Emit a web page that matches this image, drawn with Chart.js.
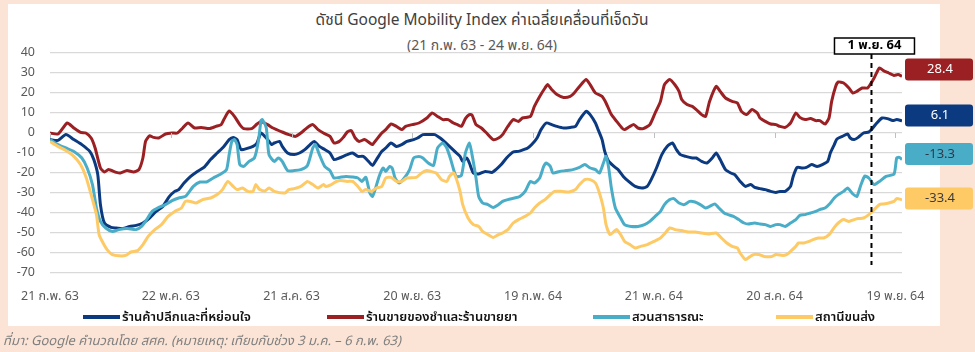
<!DOCTYPE html>
<html>
<head>
<meta charset="utf-8">
<script src="https://cdn.jsdelivr.net/npm/chart.js@4.4.1/dist/chart.umd.min.js"></script>
<style>
  body { margin:0; width:975px; height:352px; background:#fbe4d5; position:relative; overflow:hidden;
         font-family: Tahoma, "Noto Sans Thai", "Noto Sans", sans-serif; }
  #panel { position:absolute; left:8px; top:4px; width:932px; height:322px; background:#fff; }
  #wrap { position:absolute; left:0; top:0; width:975px; height:352px; }
  .ttl { position:absolute; left:0; width:964px; text-align:center; white-space:nowrap; }
  #title { top:9px; font-size:15.5px; color:#404040; }
  #subtitle { top:35px; font-size:14px; color:#595959; }
  .lg { position:absolute; top:307px; font-size:13px; font-weight:600; color:#111; white-space:nowrap; display:flex; align-items:center; }
  .lg span.sw { display:inline-block; width:37px; height:4px; margin-right:2px; }
  #note { position:absolute; left:3px; top:331px; font-size:13px; font-style:italic; color:#7f7f7f; white-space:nowrap; }
</style>
</head>
<body>
<div id="panel"></div>
<div id="title" class="ttl">ดัชนี Google Mobility Index ค่าเฉลี่ยเคลื่อนที่เจ็ดวัน</div>
<div id="subtitle" class="ttl">(21 ก.พ. 63 - 24 พ.ย. 64)</div>
<div id="wrap"><canvas id="chart"></canvas></div>
<div id="legend"></div>
<div id="note">ที่มา: Google คำนวณโดย สศค. (หมายเหตุ: เทียบกับช่วง 3 ม.ค. – 6 ก.พ. 63)</div>
<script>
// days counted from 21 ก.พ. 63
var tickDays = [0, 91, 182, 273, 364, 455, 546, 637];
var tickLabels = ['21 ก.พ. 63', '22 พ.ค. 63', '21 ส.ค. 63', '20 พ.ย. 63', '19 ก.พ. 64', '21 พ.ค. 64', '20 ส.ค. 64', '19 พ.ย. 64'];
var markerDay = 619;
var markerLabel = '1 พ.ย. 64';

var seriesNames = ['ร้านค้าปลีกและที่หย่อนใจ', 'ร้านขายของชำและร้านขายยา', 'สวนสาธารณะ', 'สถานีขนส่ง'];

var retailDays = [0,6,12,18,24,30,33,36,38,41,46,50,55,60,65,70,75,80,85,90,94,97,101,106,111,116,121,126,131,135,138,141,144,148,153,156,159,163,167,169,173,175,179,184,188,192,196,199,203,207,211,214,218,224,228,232,236,240,243,246,250,253,257,261,265,269,274,277,281,286,290,294,297,301,305,309,311,314,316,319,323,328,333,336,340,344,349,353,357,360,363,367,370,374,378,382,387,392,396,399,404,407,411,413,416,418,421,425,428,432,436,441,446,450,453,457,461,465,469,472,475,479,484,487,491,495,499,502,505,509,513,516,520,524,528,531,535,539,543,547,550,554,558,560,563,567,570,574,578,582,586,588,591,593,597,601,603,606,609,613,617,619,623,627,631,635,638,642];
var retailVals = [-3.3,-3.7,-0.8,-3.3,-5.8,-9.2,-13.3,-20.8,-35.8,-45,-47.2,-47.5,-47.8,-46.7,-46.2,-45,-42.5,-39.2,-36.7,-31.7,-29.2,-28.3,-25,-21.7,-19.2,-17.2,-13.3,-10,-6.7,-3.3,-2.2,-3.3,-8.3,-7.8,-6.7,-5,0,-2.5,-5.8,-5,-4.2,-6.7,-10,-10.8,-10,-8.3,-5.8,-4.2,-6.7,-8.3,-10,-13.3,-12.5,-10.8,-10,-11.7,-11.7,-14.2,-16.2,-13.3,-9.2,-7.5,-5,-6.7,-5.8,-4.2,-3.3,-2.5,-0.8,-0.8,-0.8,-2.5,-4.2,-6.7,-9.2,-11.7,-14.2,-12.5,-15,-20,-20.5,-19.2,-19.7,-18.3,-15.8,-12.5,-9.5,-9.2,-8.3,-7.5,-5.8,-2.5,1.7,5,4.2,3.3,2.5,2.8,3.3,6.7,10.8,9.2,5,1.7,-3.3,-9.2,-14.2,-16.7,-18.3,-21.7,-24.2,-26.7,-27.5,-26.7,-23.3,-17.5,-10.8,-6.7,-5,-8.3,-10.8,-11.7,-12.5,-12.5,-14.2,-15,-12.5,-10,-13.3,-18.3,-20,-20.8,-24.2,-26.7,-25.8,-27.2,-27.8,-28.3,-29.2,-29.7,-29.2,-29.2,-26.7,-21.7,-17.2,-17.5,-17.2,-15.8,-16.7,-15.8,-14.2,-10,-5.8,-3,-1.7,-0.5,-2.5,-3.3,-2.2,0,0.5,1.7,5,7.5,7.2,6.2,6.7,6.1];

var groceryDays = [0,6,13,18,23,27,31,34,38,41,44,50,53,58,63,67,70,72,75,78,82,87,92,96,100,104,109,114,120,125,129,131,135,139,143,146,152,156,159,164,168,175,180,185,190,194,198,202,206,211,214,218,221,224,227,230,233,237,241,243,246,250,253,257,261,265,268,273,278,284,288,292,296,300,304,307,310,313,316,318,321,325,329,334,338,341,345,349,353,356,362,365,369,373,375,378,382,387,392,395,399,404,407,411,416,419,423,427,431,433,437,440,443,447,452,456,460,463,467,471,474,476,480,484,487,491,494,497,502,505,509,514,518,521,525,529,533,535,539,543,547,550,554,558,562,565,569,573,577,580,584,587,589,592,594,598,602,605,608,612,616,618,621,625,628,632,636,639,642];
var groceryVals = [0,-0.5,5,2.5,0.3,0,-2.5,-7.5,-17.5,-19.5,-18.3,-19.7,-20,-18.8,-19.5,-18.3,-12.5,-4.2,-1.4,-2.2,-2.5,-0.5,0,0,2.5,5,2.5,2.8,2.2,3.3,4.2,6.7,11,8.3,4.2,2.2,2.2,4.5,5.8,4.2,2.5,0.5,-0.8,-1.7,0.5,2.8,4.2,1.7,0,-1.7,-5,-4.2,-2.2,0.5,1.2,-2.5,-4.2,-3.3,-5,-5.8,-3.3,0,1.7,4.5,3.3,1.7,3.3,4.2,5,7.5,10,8.3,6.7,6.7,5,4.2,3.3,7.2,9.2,9,4.2,2.5,0,-3.3,-2.5,-0.8,3.3,6.7,5.8,7.5,8.3,13.3,18.3,22.5,24.2,21.7,19.2,17.8,18.3,20,23.3,26.7,24.2,20,18.3,15,9.2,5.8,2.5,1.7,3.3,4.2,2.5,2.2,4.2,10,15.8,24.2,26.7,24,20.8,16.7,14.2,13.3,11.7,9.2,8.3,15.8,23.3,20.8,17.5,15.8,15,10.8,9.2,11.7,10,7.5,5.8,4.5,4.2,3.3,2.8,5,10,7.8,6.7,7.2,6.2,6.2,4.5,7.5,15.8,23.3,25.5,25,22.5,20,20.8,22.5,22.5,24.2,27.5,32.5,31.2,30,28.8,29.2,28.4];

var parksDays = [0,6,12,18,24,28,32,35,38,42,47,52,58,65,69,72,77,82,87,92,97,102,108,113,118,123,128,133,135,137,139,141,143,146,150,154,157,159,160,163,165,169,172,175,179,184,189,194,198,200,203,207,211,214,218,223,228,232,235,238,241,243,245,248,251,253,256,258,260,263,267,271,274,278,281,285,289,292,296,299,302,306,310,313,316,318,321,323,326,330,334,338,341,345,350,354,358,362,365,369,372,374,377,379,384,389,394,399,403,407,411,414,417,419,421,423,426,430,433,438,443,448,452,456,460,463,467,470,474,478,482,486,490,494,497,501,504,508,511,515,519,523,526,531,535,539,543,547,550,554,558,562,565,569,573,577,580,584,587,591,594,598,601,605,608,611,614,617,621,625,630,636,638,640,642];
var parksVals = [-3.3,-5.8,-7.5,-9.2,-12.5,-17.5,-25.8,-37.5,-44.2,-47.5,-49.2,-48.3,-47.8,-48.3,-46.7,-44.2,-39.2,-37.2,-35.8,-33.8,-32.5,-31.7,-26.7,-24.5,-24.5,-22.5,-20.8,-18.3,-10.8,-4.2,-3.3,-5.8,-15.8,-16.7,-14.2,-12.5,-4.2,6.2,6.7,2.5,-10.8,-14.2,-12.5,-14.2,-18.8,-18.8,-18.3,-16.2,-7.5,-5.8,-10.8,-16.7,-18.8,-22.5,-22.2,-21.7,-22,-22.5,-24.2,-22.2,-30,-31.7,-28.3,-21.7,-17.5,-19.2,-16.7,-17.8,-22.5,-25,-22.5,-18.3,-12.5,-11.7,-12.5,-15,-16.2,-7.5,-5,-7.5,-13.3,-21.7,-21.2,-10,-5,-10.8,-22.5,-31.7,-35,-35.8,-37.2,-35.8,-34.2,-33.3,-32.5,-31.7,-29.2,-24.2,-25,-22.5,-16.7,-15,-16.7,-20,-19.2,-18.8,-18.3,-17.2,-15.8,-17.5,-18.3,-20,-15,-11.7,-17.5,-27.5,-37.5,-42.5,-45.8,-46.7,-46.7,-45.8,-44.2,-41.7,-39.2,-35.8,-33.3,-32.8,-35,-35.8,-34.2,-34.5,-35.8,-37.5,-36.7,-35.5,-37.5,-40,-40.8,-41.7,-43.3,-45,-45.5,-45,-45.5,-45.8,-46.7,-45.8,-45.8,-46.7,-45,-43.3,-41.2,-40.8,-40,-39.2,-38.3,-37.5,-35.8,-32.5,-30.8,-29.2,-27.5,-30.5,-31.7,-26,-21.5,-22.5,-25.8,-24.2,-21.7,-20.5,-12.5,-12.2,-13.3];

var transitDays = [0,6,12,18,23,27,31,35,37,40,43,47,52,57,61,66,70,74,79,84,89,94,99,102,106,110,115,121,126,130,134,138,141,145,149,153,155,158,162,165,169,177,180,184,189,194,198,202,206,208,212,216,219,224,228,232,235,238,242,246,250,253,257,261,265,269,276,280,284,287,291,295,299,301,304,306,309,311,315,319,323,326,330,334,338,341,345,349,353,358,362,365,369,373,377,380,386,391,396,399,403,407,411,414,417,419,422,425,427,430,433,437,441,445,450,455,460,463,467,471,476,481,486,491,496,502,506,510,514,518,520,524,526,530,534,538,544,547,552,555,558,562,564,568,572,575,579,583,587,591,594,598,602,606,609,613,617,621,625,628,632,636,638,642];
var transitVals = [-4.2,-6.7,-8.8,-11.7,-15.8,-21.7,-30.8,-40.8,-50.8,-55,-58.3,-60.8,-61.4,-61.2,-59.5,-58.8,-55.8,-51.7,-48.3,-45.8,-41.7,-39.2,-37.5,-34.2,-34.2,-35,-33.3,-32.5,-30.8,-28.3,-24.2,-26.7,-28.3,-27.5,-29.2,-29.2,-25.8,-28.3,-29,-27.5,-29.2,-30,-28.3,-27.8,-26.7,-24.2,-25.8,-27.5,-25.8,-26.7,-25.8,-24.2,-23.8,-24.2,-24.2,-26.7,-29.2,-28.3,-29.2,-27.5,-26.7,-22.5,-22.2,-24.2,-24.2,-22.5,-22.2,-20,-18.8,-19.2,-20,-23.3,-24.2,-21.7,-20,-22.5,-29.2,-35.8,-42.5,-45.8,-46.7,-49.2,-50.8,-52.2,-50.8,-50,-48.3,-45,-43.3,-41.7,-40,-37.5,-35,-33.3,-30.8,-29.2,-29.2,-29.5,-28.3,-25.8,-23.3,-23.3,-25,-30,-37.5,-45.8,-50.8,-49.2,-48.3,-50.8,-54.2,-55.8,-57.5,-56.7,-55.8,-54.2,-52.5,-50.5,-47.5,-48.3,-48.8,-49.5,-49.5,-50,-50.5,-50,-52.5,-55,-56.7,-57.5,-60,-63.3,-62.5,-60.8,-60.8,-61.7,-61.7,-60.8,-61.2,-60.8,-59.2,-56.7,-55,-55,-54.2,-53.3,-52.5,-52.5,-50.8,-47.2,-45,-43.3,-44.2,-43.3,-42.8,-42.5,-40.8,-38.3,-35.8,-35.5,-35,-34.2,-32.8,-33.4];

var colors = ['#0b3a80', '#9b2023', '#4aadc8', '#fdca66'];
var tagText = ['#ffffff', '#ffffff', '#2b3a4a', '#3a3a3a'];
var tagNudge = [-5.4, -6.8, -5.7, -1.4];

function pts(days, vals) {
  return days.map(function(d, i) { return { x: d, y: vals[i] }; });
}

var allDays = [retailDays, groceryDays, parksDays, transitDays];
var allVals = [retailVals, groceryVals, parksVals, transitVals];
var datasets = [];
for (var i = 0; i < 4; i++) {
  datasets.push({
    label: seriesNames[i],
    data: pts(allDays[i], allVals[i]),
    borderColor: colors[i],
    backgroundColor: colors[i],
    borderWidth: 3,
    pointRadius: 0,
    tension: 0.2,
    order: 4 - i
  });
}

// legend
var legendLeft = [83, 327, 593, 776];
var lg = document.getElementById('legend');
seriesNames.forEach(function(n, i) {
  var d = document.createElement('div');
  d.className = 'lg';
  d.style.left = legendLeft[i] + 'px';
  d.innerHTML = '<span class="sw" style="background:' + colors[i] + '"></span>' + n;
  lg.appendChild(d);
});

var extras = {
  id: 'extras',
  afterDatasetsDraw: function(chart) {
    var ctx = chart.ctx, xs = chart.scales.x, ys = chart.scales.y;
    var y0 = ys.getPixelForValue(0);
    ctx.save();
    // small tick marks on the zero line
    ctx.strokeStyle = '#bfbfbf';
    ctx.lineWidth = 1;
    tickDays.forEach(function(d) {
      var x = Math.round(xs.getPixelForValue(d)) + 0.5;
      ctx.beginPath(); ctx.moveTo(x, y0); ctx.lineTo(x, y0 + 5); ctx.stroke();
    });
    // marker line
    var mx = xs.getPixelForValue(markerDay);
    ctx.strokeStyle = '#000';
    ctx.lineWidth = 2;
    ctx.setLineDash([5, 4]);
    ctx.beginPath(); ctx.moveTo(mx, 54); ctx.lineTo(mx, ys.getPixelForValue(-66)); ctx.stroke();
    ctx.setLineDash([]);
    ctx.fillStyle = '#fff';
    ctx.lineWidth = 1.5;
    ctx.fillRect(mx - 37, 38, 80, 16);
    ctx.strokeRect(mx - 37, 38, 80, 16);
    ctx.fillStyle = '#000';
    ctx.font = 'bold 13px Tahoma, "Noto Sans Thai", "Noto Sans", sans-serif';
    ctx.textAlign = 'center';
    ctx.textBaseline = 'middle';
    ctx.fillText(markerLabel, mx + 3, 46.5);
    // end value tags
    ctx.font = '13px Tahoma, "Noto Sans Thai", "Noto Sans", sans-serif';
    for (var i = 0; i < 4; i++) {
      var v = allVals[i][allVals[i].length - 1];
      var cy = ys.getPixelForValue(v) + tagNudge[i];
      ctx.fillStyle = colors[i];
      ctx.beginPath();
      ctx.roundRect(905, cy - 11, 68, 22, 3);
      ctx.fill();
      ctx.fillStyle = tagText[i];
      ctx.fillText(v.toFixed(1), 940, cy + 1);
    }
    ctx.restore();
  }
};

new Chart(document.getElementById('chart'), {
  type: 'line',
  data: { datasets: datasets },
  plugins: [extras],
  options: {
    responsive: true,
    maintainAspectRatio: false,
    animation: false,
    layout: { padding: { top: 53, left: 8, right: 73, bottom: 45 } },
    plugins: { legend: { display: false }, tooltip: { enabled: false } },
    scales: {
      x: {
        type: 'linear', min: 0, max: 642,
        afterBuildTicks: function(s) { s.ticks = tickDays.map(function(v) { return { value: v }; }); },
        afterFit: function(s) { s.height = 34; },
        grid: { display: false, drawTicks: false },
        border: { display: false },
        ticks: {
          autoSkip: false, maxRotation: 0, padding: 17, color: '#595959',
          font: { size: 12.5, family: 'Tahoma, "Noto Sans Thai", "Noto Sans", sans-serif' },
          callback: function(v) { var k = tickDays.indexOf(v); return k < 0 ? '' : tickLabels[k]; }
        }
      },
      y: {
        min: -70, max: 40,
        afterFit: function(s) { s.width = 42; },
        grid: { color: '#d9d9d9', lineWidth: 1.3, drawTicks: false },
        border: { display: false },
        ticks: {
          stepSize: 10, padding: 15, color: '#595959',
          font: { size: 12.5, family: 'Tahoma, "Noto Sans Thai", "Noto Sans", sans-serif' }
        }
      }
    }
  }
});
</script>
</body>
</html>
